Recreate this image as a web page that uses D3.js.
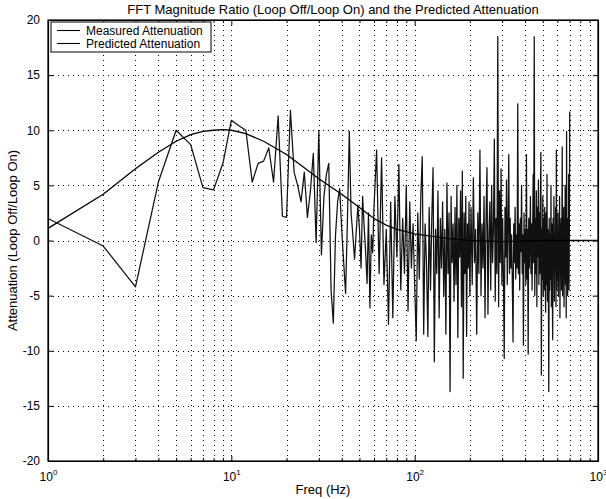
<!DOCTYPE html>
<html lang="en">
<head>
<meta charset="UTF-8">
<title>FFT Magnitude Ratio</title>
<script src="https://d3js.org/d3.v7.min.js"></script>
<style>
  body { margin: 0; background: #fff; }
  text { font-family: "Liberation Sans", Arial, sans-serif; fill: #000; }
</style>
</head>
<body>
<svg width="606" height="499"></svg>
<script>
// predicted attenuation curve (freq in Hz, value)
var predictedFreq = [1, 2, 3, 4, 5, 6, 7, 8, 9, 10, 12, 15, 20, 25, 30, 40, 50, 60, 70, 80, 100, 150, 200, 300, 500, 700, 1000];
var predictedVal = [1.1, 4.2, 6.5, 8.0, 9.0, 9.6, 9.9, 10.0, 10.05, 10.0, 9.7, 9.0, 7.8, 6.6, 5.6, 4.2, 3.0, 2.0, 1.4, 1.0, 0.6, 0.2, 0.0, -0.1, 0.0, 0.0, 0.0];

// measured attenuation, 1..60 Hz every 1 Hz
var measuredLow = [2.0, -0.5, -4.2, 5.3, 10.0, 8.7, 4.8, 4.6, 7.0, 10.9,
  10.4, 10.0, 5.3, 7.0, 7.2, 8.4, 5.3, 11.3, 2.2, 2.1,
  11.8, 6.2, 5.0, 3.5, 6.2, 2.1, 4.5, 7.9, -0.2, 9.9,
  -1.3, 4.0, 6.0, 7.0, -4.5, -7.5, 0.5, 3.5, 4.7, 1.0,
  -2.0, -4.8, 2.0, 9.9, 2.5, 0.5, -1.7, 0.8, 3.2, 1.0,
  -2.5, 4.0, 1.3, -1.0, -3.9, 2.5, -6.1, 0.5, -1.1, 3.0];

// measured attenuation, 62..200 Hz every 2 Hz
var measuredMid = [8.2, -3.0, 7.5, -4.0, 1.0, -7.6, 3.5, -7.0, 4.0, -1.5,
  6.9, -4.5, 2.0, -3.0, 5.0, -6.4, 3.5, -2.5, 1.5, -4.0,
  -9.1, 2.5, -3.5, 4.0, 7.6, -8.5, 1.5, -2.0, -8.7, 3.0,
  -4.5, 2.0, 6.6, -11.0, 1.0, -3.0, 4.5, -7.0, 2.0, -2.5,
  3.5, -5.0, 1.0, -8.5, 5.2, -3.0, 2.5, -13.7, 4.0, -2.0,
  1.5, -5.5, 3.0, -4.0, 5.0, -8.8, 2.0, -1.5, 4.5, -6.0,
  6.3, -12.5, 2.5, -3.0, 4.0, -8.7, 1.5, -2.5, 3.5, -5.0];

// measured attenuation, 203..701 Hz every 3 Hz
var measuredHigh = [3.0, -4.0, 5.7, -2.0, 1.0, -8.5, 2.5, -3.0, 8.2, -5.0,
  1.5, -2.5, 4.0, -7.0, 2.0, 6.6, -6.7, 0.5, 3.5, -4.5,
  5.0, -2.0, 1.0, 9.2, -5.5, 2.0, -3.0, 18.5, -6.0, 4.5,
  -2.0, 6.5, -4.0, 2.0, -3.5, -10.7, 3.0, -1.5, 5.5, -4.0,
  1.5, 7.8, -3.0, 2.0, -2.5, 0.5, -4.0, -9.2, 1.5, -2.0,
  3.0, -3.5, 0.5, -2.5, 12.4, -3.0, 1.5, -4.5, 2.0, -1.0,
  5.0, -3.0, 0.5, -9.5, 2.5, -2.0, 1.0, -4.0, 7.8, -3.5,
  1.0, -10.3, 2.0, -2.5, 0.5, 4.0, -3.0, 1.5, -4.5, 0.5,
  6.0, -2.0, 18.5, -5.0, 2.0, -3.0, 4.5, -6.0, 3.0, -1.5,
  5.5, -4.0, 2.5, -3.0, 3.5, 8.0, -12.2, 1.0, -3.5, 4.0,
  -5.0, 2.0, -4.5, 3.0, -2.0, -6.5, 2.5, -4.0, 6.0, -5.5,
  1.0, -3.0, -13.7, 2.0, -4.5, 0.5, -3.5, 5.0, -6.0, 1.5,
  -4.0, -9.0, 2.0, -3.0, 4.0, -5.5, 0.5, -2.5, 3.0, -6.0,
  8.2, -4.5, 1.0, -3.5, 2.5, -5.0, 0.5, -2.0, 4.0, -7.0,
  1.5, -3.0, 2.0, -4.5, 0.0, 8.5, -5.0, 1.0, -3.5, 3.0,
  -6.0, 0.5, -2.5, 5.0, -4.0, 1.0, -7.0, 9.9, -3.5, 2.0,
  -5.0, 0.5, -2.0, 6.0, -4.5, 1.0, 11.7];

var yTicks = [-20, -15, -10, -5, 0, 5, 10, 15, 20];
var xDecades = [1, 10, 100, 1000];

var svg = d3.select('svg');
var plotLeft = 48, plotRight = 598, plotTop = 20, plotBottom = 461;

var x = d3.scaleLog().domain([1, 1000]).range([plotLeft, plotRight]);
var y = d3.scaleLinear().domain([-20, 20]).range([plotBottom, plotTop]);

var measured = [];
measuredLow.forEach(function (v, i) { measured.push({f: 1 + i, v: v}); });
measuredMid.forEach(function (v, i) { measured.push({f: 62 + 2 * i, v: v}); });
measuredHigh.forEach(function (v, i) { measured.push({f: 203 + 3 * i, v: v}); });

var predicted = predictedFreq.map(function (f, i) { return {f: f, v: predictedVal[i]}; });

// minor + major x grid values
var xGrid = [];
[1, 10, 100].forEach(function (d) {
  for (var k = 1; k <= 9; k++) xGrid.push(d * k);
});
xGrid.push(1000);

var grid = svg.append('g')
  .attr('stroke', '#000')
  .attr('stroke-width', 1)
  .attr('stroke-dasharray', '1,4');

grid.selectAll('.vx')
  .data(xGrid.filter(function (d) { return d > 1 && d < 1000; }))
  .enter().append('line')
  .attr('x1', function (d) { return Math.round(x(d)) + 0.5; })
  .attr('x2', function (d) { return Math.round(x(d)) + 0.5; })
  .attr('y1', plotTop)
  .attr('y2', plotBottom);

grid.selectAll('.hy')
  .data(yTicks.filter(function (d) { return d > -20 && d < 20; }))
  .enter().append('line')
  .attr('x1', plotLeft)
  .attr('x2', plotRight)
  .attr('y1', function (d) { return Math.round(y(d)) + 0.5; })
  .attr('y2', function (d) { return Math.round(y(d)) + 0.5; });

var line = d3.line()
  .x(function (d) { return x(d.f); })
  .y(function (d) { return y(d.v); });

svg.append('path')
  .datum(measured)
  .attr('fill', 'none')
  .attr('stroke', '#111')
  .attr('stroke-width', 1.25)
  .attr('stroke-linejoin', 'round')
  .attr('d', line);

svg.append('path')
  .datum(predicted)
  .attr('fill', 'none')
  .attr('stroke', '#000')
  .attr('stroke-width', 1.3)
  .attr('d', line);

// axes with inward ticks
var isMajor = function (d) { return xDecades.indexOf(d) >= 0; };

var xb = svg.append('g')
  .attr('transform', 'translate(0,' + plotBottom + ')')
  .call(d3.axisBottom(x).tickValues(xGrid).tickSizeOuter(0).tickFormat(''));
xb.selectAll('.tick line').attr('y2', function (d) { return isMajor(d) ? -5 : -3; });
xb.selectAll('.tick').filter(isMajor).append('text')
  .attr('y', 20)
  .attr('text-anchor', 'middle')
  .attr('font-size', 12)
  .each(function (d) {
    var t = d3.select(this);
    t.append('tspan').text('10');
    t.append('tspan').attr('dy', -6).attr('font-size', 8).text(String(Math.round(Math.log10(d))));
  });

var xt = svg.append('g')
  .attr('transform', 'translate(0,' + plotTop + ')')
  .call(d3.axisTop(x).tickValues(xGrid).tickSizeOuter(0).tickFormat(''));
xt.selectAll('.tick line').attr('y2', function (d) { return isMajor(d) ? 5 : 3; });

var yl = svg.append('g')
  .attr('transform', 'translate(' + plotLeft + ',0)')
  .call(d3.axisLeft(y).tickValues(yTicks).tickSizeInner(-5).tickSizeOuter(0).tickPadding(8)
    .tickFormat(function (d) { return String(d); }));
yl.selectAll('text').attr('font-size', 12).attr('font-family', '"Liberation Sans", Arial, sans-serif');

svg.append('g')
  .attr('transform', 'translate(' + plotRight + ',0)')
  .call(d3.axisRight(y).tickValues(yTicks).tickSizeInner(-5).tickSizeOuter(0).tickFormat(''));

svg.selectAll('.domain').attr('stroke', '#000').attr('stroke-width', 1.2);

// box
svg.append('rect')
  .attr('x', plotLeft).attr('y', plotTop)
  .attr('width', plotRight - plotLeft).attr('height', plotBottom - plotTop)
  .attr('fill', 'none').attr('stroke', '#000').attr('stroke-width', 1.2);

// legend
var lg = svg.append('g').attr('transform', 'translate(' + (plotLeft + 3) + ',' + (plotTop + 2) + ')');
lg.append('rect').attr('width', 160).attr('height', 30)
  .attr('fill', '#fff').attr('stroke', '#000').attr('stroke-width', 1);
var legendItems = ['Measured Attenuation', 'Predicted Attenuation'];
legendItems.forEach(function (name, i) {
  lg.append('line').attr('x1', 6).attr('x2', 29)
    .attr('y1', 8.5 + i * 13).attr('y2', 8.5 + i * 13)
    .attr('stroke', '#000').attr('stroke-width', 1.1);
  lg.append('text').attr('x', 35).attr('y', 12.5 + i * 13)
    .attr('font-size', 12).text(name);
});

// titles
svg.append('text').attr('x', (plotLeft + plotRight) / 2 + 10).attr('y', 14)
  .attr('text-anchor', 'middle').attr('font-size', 13)
  .text('FFT Magnitude Ratio (Loop Off/Loop On) and the Predicted Attenuation');
svg.append('text').attr('x', (plotLeft + plotRight) / 2).attr('y', 494)
  .attr('text-anchor', 'middle').attr('font-size', 13)
  .text('Freq  (Hz)');
svg.append('text')
  .attr('transform', 'translate(17,' + ((plotTop + plotBottom) / 2) + ') rotate(-90)')
  .attr('text-anchor', 'middle').attr('font-size', 13)
  .text('Attenuation (Loop Off/Loop On)');
</script>
</body>
</html>
